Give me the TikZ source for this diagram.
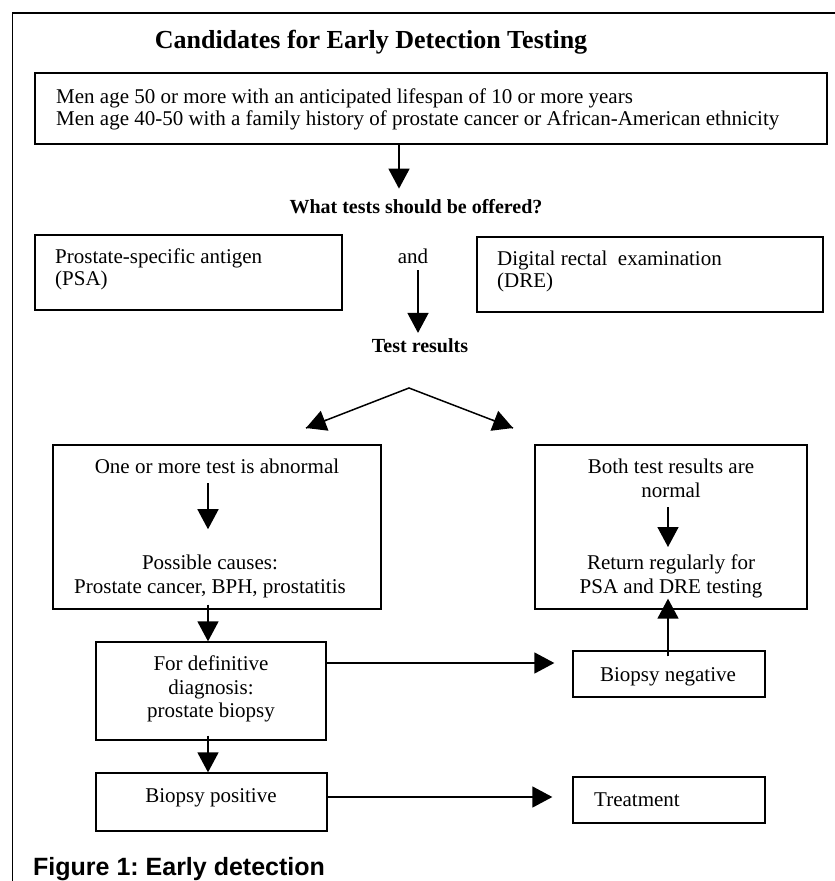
\documentclass[tikz,border=0pt]{standalone}
\usepackage{fontspec}
\setmainfont{Liberation Serif}
\newfontfamily\capfont{Liberation Sans}
\usetikzlibrary{arrows.meta,calc}
\frenchspacing
\tikzset{
  box/.style={draw=black, line width=1.3pt, rectangle, inner sep=0pt},
  arr/.style={line width=1.5pt, -{Triangle[length=20pt,width=21pt]}},
  body/.style={inner sep=0pt, font=\fontsize{21}{24}\selectfont},
  bodyc/.style={body, align=center},
  bodyl/.style={body, align=left},
  head/.style={inner sep=0pt, font=\fontsize{20}{24}\selectfont\bfseries},
}
\begin{document}
\begin{tikzpicture}[x=1pt,y=-1pt]
\useasboundingbox (0,0) rectangle (835,881);
\clip (0,0) rectangle (835,881);
% frame
\draw[line width=1.3pt] (12.5,881) -- (12.5,13) -- (836,13);
% title
\node[anchor=base, inner sep=0pt, font=\fontsize{26}{28}\selectfont\bfseries] (title) at (371,48) {Candidates for Early Detection Testing};
% boxes and texts
\node[box, minimum width=792pt, minimum height=71pt] (b1) at (431,108.5) {};
\node[bodyl, anchor=base west] (t1a) at (56,103) {Men age 50 or more with an anticipated lifespan of 10 or more years};
\node[bodyl, anchor=base west] (t1b) at (56,125) {Men age 40-50 with a family history of prostate cancer or African-American ethnicity};
\node[head, anchor=base] (q) at (416,213) {What tests should be offered?};
\node[box, minimum width=307pt, minimum height=75pt] (psa) at (188.5,272.5) {};
\node[bodyl, anchor=base west] (psa1) at (55,263) {Prostate-specific antigen};
\node[bodyl, anchor=base west] (psa2) at (55,285) {(PSA)};
\node[body, anchor=base] (and) at (413,263) {and};
\node[box, minimum width=346pt, minimum height=75pt] (dre) at (650,274.5) {};
\node[bodyl, anchor=base west] (dre1) at (497,265) {Digital rectal\ \ examination};
\node[bodyl, anchor=base west] (dre2) at (497,287) {(DRE)};
\node[head, anchor=base] (tr) at (420,352) {Test results};
\coordinate (apex) at (409,388);
\coordinate (tipL) at (306,428);
\coordinate (tipR) at (513,428);
\node[box, minimum width=328pt, minimum height=164pt] (lb) at (217,527) {};
\node[bodyc, anchor=base] (lb1) at (217,473) {One or more test is abnormal};
\node[bodyc, anchor=base] (lb2) at (210,569) {Possible causes:};
\node[bodyc, anchor=base] (lb3) at (210,593) {Prostate cancer, BPH, prostatitis};
\node[box, minimum width=272pt, minimum height=164pt] (rb) at (671,527) {};
\node[bodyc, anchor=base] (rb1) at (671,473) {Both test results are};
\node[bodyc, anchor=base] (rb2) at (671,497) {normal};
\node[bodyc, anchor=base] (rb3) at (671,569) {Return regularly for};
\node[bodyc, anchor=base] (rb4) at (671,593) {PSA and DRE testing};
\node[box, minimum width=230pt, minimum height=98pt] (fd) at (211,691) {};
\node[bodyc, anchor=base] (fd1) at (211,670) {For definitive};
\node[bodyc, anchor=base] (fd2) at (211,694) {diagnosis:};
\node[bodyc, anchor=base] (fd3) at (211,717) {prostate biopsy};
\node[box, minimum width=231pt, minimum height=58pt] (bp) at (211.5,802) {};
\node[bodyc, anchor=base] (bp1) at (211,802) {Biopsy positive};
\node[box, minimum width=192pt, minimum height=46pt] (bn) at (669,674) {};
\node[bodyc, anchor=base] (bn1) at (668,681) {Biopsy negative};
\node[box, minimum width=192pt, minimum height=46pt] (tm) at (669,800) {};
\node[bodyl, anchor=base west] (tm1) at (594,806) {Treatment};
% connector coordinates
\coordinate (a1s) at ($(b1.south)+(-32,0)$);
\coordinate (a1e) at ($(a1s)+(0,44)$);
\coordinate (a2s) at ($(and.south)+(5,7)$);
\coordinate (a2e) at ($(tr.north)+(-2,-5)$);
\coordinate (a3s) at ($(lb1.south)+(-9,10)$);
\coordinate (a3e) at ($(lb2.north)+(-2,-25)$);
\coordinate (a4s) at ($(rb2.south)+(-3,10)$);
\coordinate (a4e) at ($(rb3.north)+(-3,-7)$);
\coordinate (a5s) at ($(lb.south -| fd.north)+(-3,-5)$);
\coordinate (a5e) at ($(fd.north)+(-3,0)$);
\coordinate (a6s) at ($(fd.south)+(-3,-5)$);
\coordinate (a6e) at ($(bp.north)+(-3.5,0)$);
\coordinate (fdE) at ($(fd.east)+(0,-28)$);
\coordinate (bnW) at ($(bn.west)+(-18,-11)$);
\coordinate (a8s) at ($(bn.north)+(-1,6)$);
\coordinate (a8e) at ($(rb.south -| a8s)+(0,-11)$);
\coordinate (bpE) at ($(bp.east)+(0,-5)$);
\coordinate (tmW) at ($(tm.west)+(-20,-3)$);
% arrows
\draw[arr] (a1s) -- (a1e);
\draw[arr] (a2s) -- (a2e);
\draw[line width=1.5pt] (tipL) -- (apex) -- (tipR);
\draw[arr] ($(apex)!0.8!(tipL)$) -- (tipL);
\draw[arr] ($(apex)!0.8!(tipR)$) -- (tipR);
\draw[arr] (a3s) -- (a3e);
\draw[arr] (a4s) -- (a4e);
\draw[arr] (a5s) -- (a5e);
\draw[arr] (a6s) -- (a6e);
\draw[arr] (fdE) -- (bnW);
\draw[arr] (a8s) -- (a8e);
\draw[arr] (bpE) -- (tmW);
% caption
\node[anchor=base west, inner sep=0pt, font=\capfont\fontsize{25}{28}\selectfont\bfseries] (cap) at (33,875) {Figure 1: Early detection};
\end{tikzpicture}
\end{document}
